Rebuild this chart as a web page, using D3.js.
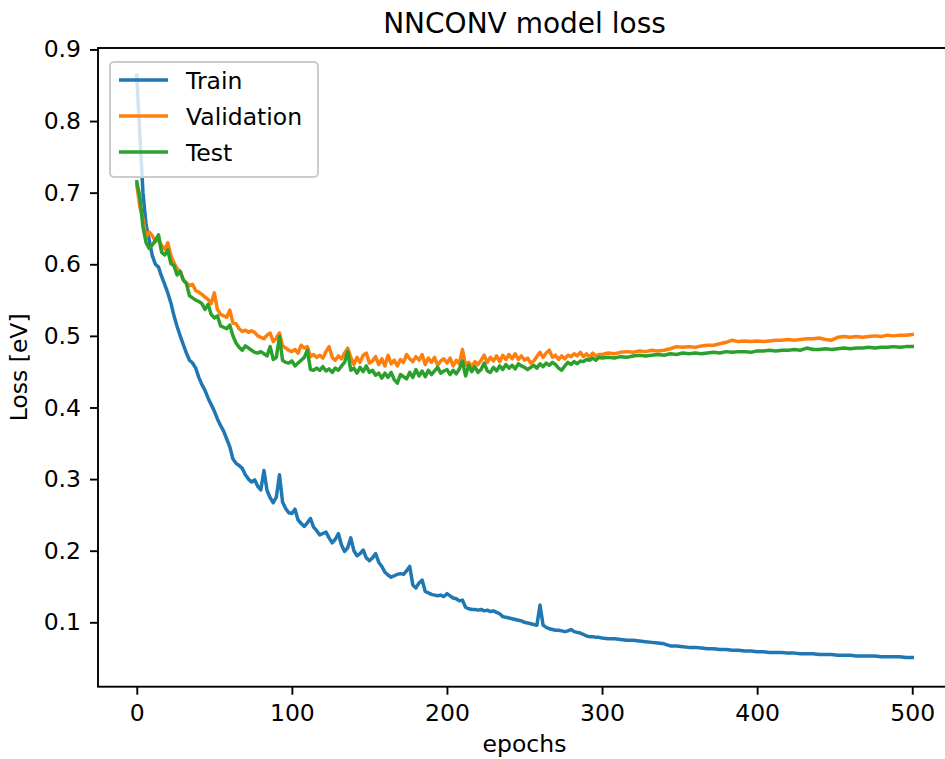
<!DOCTYPE html>
<html>
<head>
<meta charset="utf-8">
<script src="https://cdn.jsdelivr.net/npm/d3@7"></script>
<style>
  body { margin: 0; background: #fff; }
  text { font-family: "DejaVu Sans", sans-serif; fill: #000; }
</style>
</head>
<body>
<script>
// epochs: every 2 epochs up to 300, every 4 after that
var epochs = d3.range(0, 301, 2).concat(d3.range(304, 501, 4));

var trainLoss = [
  0.864, 0.780, 0.700, 0.655, 0.634, 0.612, 0.600, 0.596, 0.583, 0.572,
  0.560, 0.546, 0.528, 0.513, 0.500, 0.488, 0.476, 0.466, 0.462, 0.455,
  0.442, 0.432, 0.424, 0.413, 0.404, 0.395, 0.384, 0.375, 0.367, 0.356,
  0.345, 0.328, 0.322, 0.319, 0.315, 0.306, 0.300, 0.296, 0.299, 0.290,
  0.285, 0.312, 0.284, 0.274, 0.267, 0.275, 0.306, 0.268, 0.259, 0.253,
  0.252, 0.258, 0.243, 0.238, 0.234, 0.239, 0.245, 0.233, 0.228, 0.222,
  0.224, 0.226, 0.218, 0.211, 0.216, 0.224, 0.208, 0.199, 0.204, 0.218,
  0.200, 0.193, 0.196, 0.201, 0.190, 0.186, 0.190, 0.196, 0.184, 0.178,
  0.170, 0.166, 0.163, 0.165, 0.167, 0.168, 0.167, 0.172, 0.178, 0.152,
  0.148, 0.155, 0.159, 0.143, 0.141, 0.139, 0.138, 0.137, 0.138, 0.136,
  0.140, 0.137, 0.134, 0.133, 0.130, 0.131, 0.121, 0.119, 0.118, 0.118,
  0.117, 0.118, 0.116, 0.117, 0.115, 0.116, 0.114, 0.112, 0.108, 0.107,
  0.106, 0.105, 0.104, 0.103, 0.102, 0.100, 0.099, 0.098, 0.097, 0.096,
  0.124, 0.096, 0.093, 0.091, 0.090, 0.089, 0.089, 0.088, 0.087, 0.088,
  0.090, 0.087, 0.086, 0.085, 0.083, 0.081, 0.080, 0.080, 0.079, 0.079,
  0.078,
  0.077, 0.077, 0.076, 0.075, 0.075, 0.074, 0.073, 0.072, 0.071, 0.070,
  0.067, 0.067, 0.066, 0.065, 0.065, 0.064, 0.063, 0.063, 0.062, 0.062,
  0.061, 0.061, 0.060, 0.060, 0.059, 0.059, 0.058, 0.058, 0.058, 0.057,
  0.057, 0.056, 0.056, 0.056, 0.055, 0.055, 0.055, 0.054, 0.054, 0.054,
  0.053, 0.053, 0.053, 0.053, 0.052, 0.052, 0.052, 0.052, 0.051, 0.051
];

var validationLoss = [
  0.711, 0.680, 0.664, 0.638, 0.645, 0.640, 0.632, 0.634, 0.626, 0.621,
  0.630, 0.612, 0.602, 0.594, 0.590, 0.578, 0.574, 0.570, 0.572, 0.563,
  0.561, 0.558, 0.554, 0.551, 0.545, 0.560, 0.537, 0.530, 0.528, 0.526,
  0.536, 0.518, 0.517, 0.510, 0.506, 0.508, 0.505, 0.507, 0.505, 0.500,
  0.498, 0.496, 0.501, 0.504, 0.492, 0.497, 0.504, 0.486, 0.483, 0.480,
  0.478, 0.481, 0.476, 0.487, 0.483, 0.485, 0.471, 0.474, 0.470, 0.473,
  0.469, 0.478, 0.485, 0.470, 0.466, 0.472, 0.468, 0.476, 0.483, 0.470,
  0.460, 0.470, 0.463, 0.473, 0.476, 0.462, 0.465, 0.471, 0.460, 0.468,
  0.458, 0.473, 0.461, 0.466, 0.458, 0.467, 0.463, 0.474, 0.468, 0.464,
  0.471, 0.466, 0.474, 0.460, 0.469, 0.463, 0.470, 0.459, 0.465, 0.468,
  0.462, 0.469, 0.458, 0.466, 0.461, 0.481, 0.459, 0.463, 0.457, 0.464,
  0.460, 0.466, 0.473, 0.463, 0.470, 0.465, 0.472, 0.464, 0.473, 0.467,
  0.474, 0.468, 0.475, 0.467, 0.472, 0.466, 0.469, 0.462, 0.465, 0.471,
  0.477, 0.470, 0.476, 0.480, 0.470, 0.473, 0.467, 0.472, 0.468, 0.473,
  0.471, 0.475, 0.472, 0.477, 0.471, 0.475, 0.470, 0.476, 0.472, 0.474,
  0.474,
  0.476, 0.475, 0.477, 0.478, 0.477, 0.479, 0.478, 0.480, 0.479, 0.480,
  0.482, 0.485, 0.484, 0.485, 0.484, 0.486, 0.487, 0.487, 0.489, 0.491,
  0.494, 0.492, 0.493, 0.492, 0.493, 0.492, 0.493, 0.494, 0.494, 0.495,
  0.494, 0.495, 0.496, 0.496, 0.497, 0.495, 0.494, 0.498, 0.499, 0.498,
  0.499, 0.498, 0.499, 0.500, 0.499, 0.501, 0.500, 0.501, 0.501, 0.502
];

var testLoss = [
  0.715, 0.694, 0.652, 0.630, 0.622, 0.627, 0.633, 0.641, 0.617, 0.613,
  0.620, 0.601, 0.598, 0.585, 0.590, 0.578, 0.573, 0.556, 0.553, 0.550,
  0.548, 0.545, 0.537, 0.544, 0.530, 0.525, 0.528, 0.514, 0.512, 0.510,
  0.515, 0.500, 0.490, 0.484, 0.480, 0.486, 0.483, 0.480, 0.477, 0.476,
  0.478, 0.475, 0.472, 0.485, 0.467, 0.470, 0.499, 0.466, 0.463, 0.462,
  0.465, 0.458, 0.462, 0.466, 0.470, 0.480, 0.453, 0.452, 0.455, 0.452,
  0.457, 0.451, 0.454, 0.449, 0.455, 0.452, 0.458, 0.463, 0.478, 0.452,
  0.455, 0.448, 0.456, 0.450, 0.458, 0.449, 0.452, 0.445, 0.448, 0.441,
  0.448, 0.442, 0.449, 0.439, 0.434, 0.446, 0.443, 0.440, 0.449, 0.442,
  0.453, 0.444, 0.451, 0.443, 0.452, 0.446, 0.451, 0.456, 0.448, 0.451,
  0.453, 0.446, 0.452, 0.447, 0.454, 0.465, 0.444, 0.459, 0.450, 0.457,
  0.449, 0.453, 0.462, 0.451, 0.449, 0.456, 0.451, 0.458, 0.453, 0.460,
  0.455, 0.459, 0.454, 0.461, 0.458, 0.456, 0.453, 0.456, 0.459, 0.455,
  0.461, 0.457, 0.462, 0.459, 0.463, 0.460, 0.455, 0.452, 0.458, 0.463,
  0.460, 0.464, 0.461, 0.465, 0.464, 0.467, 0.466, 0.469, 0.466, 0.470,
  0.469,
  0.470, 0.469, 0.471, 0.470, 0.472, 0.473, 0.472, 0.473, 0.474, 0.473,
  0.475, 0.474, 0.476, 0.475, 0.476, 0.475, 0.476, 0.477, 0.476, 0.478,
  0.477, 0.478, 0.478, 0.477, 0.479, 0.479, 0.480, 0.479, 0.480, 0.480,
  0.481, 0.480, 0.483, 0.481, 0.481, 0.482, 0.481, 0.482, 0.483, 0.482,
  0.483, 0.483, 0.484, 0.483, 0.484, 0.484, 0.485, 0.484, 0.485, 0.485
];

var seriesNames = ["Train", "Validation", "Test"];
var seriesColors = ["#1f77b4", "#ff7f0e", "#2ca02c"];
var xTicks = [0, 100, 200, 300, 400, 500];
var yTicks = [0.1, 0.2, 0.3, 0.4, 0.5, 0.6, 0.7, 0.8, 0.9];

var W = 945, H = 759;
var plotLeft = 98, plotRight = 951, plotTop = 48, plotBottom = 686.7;

var svg = d3.select("body").append("svg").attr("width", W).attr("height", H);

var x = d3.scaleLinear().domain([-25, 525]).range([plotLeft, plotRight]);
var y = d3.scaleLinear().domain([0.0101, 0.902]).range([plotBottom, plotTop]);

svg.append("clipPath").attr("id", "plotclip")
  .append("rect")
    .attr("x", plotLeft).attr("y", plotTop)
    .attr("width", plotRight - plotLeft).attr("height", plotBottom - plotTop);

var line = d3.line()
  .x(function(d){ return x(d[0]); })
  .y(function(d){ return y(d[1]); });

var allSeries = [trainLoss, validationLoss, testLoss];

svg.append("g").attr("clip-path", "url(#plotclip)")
  .selectAll("path")
  .data(allSeries)
  .enter().append("path")
    .attr("d", function(s){ return line(s.map(function(v, i){ return [epochs[i], v]; })); })
    .attr("fill", "none")
    .attr("stroke", function(d, i){ return seriesColors[i]; })
    .attr("stroke-width", 3.5)
    .attr("stroke-linejoin", "round")
    .attr("stroke-linecap", "square");

// axes
var xAxis = svg.append("g")
  .attr("transform", "translate(0," + plotBottom + ")")
  .call(d3.axisBottom(x).tickValues(xTicks).tickSize(8).tickPadding(10).tickSizeOuter(0));

var yAxis = svg.append("g")
  .attr("transform", "translate(" + plotLeft + ",0)")
  .call(d3.axisLeft(y).tickValues(yTicks).tickSize(8).tickPadding(9).tickSizeOuter(0).tickFormat(d3.format(".1f")));

[xAxis, yAxis].forEach(function(g){
  g.selectAll("text").attr("font-size", 23.5).attr("font-family", "DejaVu Sans").attr("fill", "#000");
  g.selectAll("line").attr("stroke", "#000").attr("stroke-width", 1.9);
  g.select(".domain").remove();
});

// frame
svg.append("rect")
  .attr("x", plotLeft).attr("y", plotTop)
  .attr("width", plotRight - plotLeft).attr("height", plotBottom - plotTop)
  .attr("fill", "none")
  .attr("stroke", "#000")
  .attr("stroke-width", 1.9);

// title and labels
svg.append("text")
  .text("NNCONV model loss")
  .attr("x", (plotLeft + plotRight) / 2)
  .attr("y", 33)
  .attr("font-size", 28)
  .attr("text-anchor", "middle");

svg.append("text")
  .text("epochs")
  .attr("x", (plotLeft + plotRight) / 2)
  .attr("y", 752)
  .attr("font-size", 23.5)
  .attr("text-anchor", "middle");

svg.append("text")
  .text("Loss [eV]")
  .attr("transform", "translate(27," + (plotTop + plotBottom) / 2 + ") rotate(-90)")
  .attr("font-size", 23.5)
  .attr("text-anchor", "middle");

// legend
var legend = svg.append("g");
legend.append("rect")
  .attr("x", 110).attr("y", 62)
  .attr("width", 208).attr("height", 115)
  .attr("rx", 4).attr("ry", 4)
  .attr("fill", "#fff").attr("fill-opacity", 0.8)
  .attr("stroke", "#cccccc").attr("stroke-width", 2);

var items = legend.selectAll("g.item")
  .data(seriesNames)
  .enter().append("g")
    .attr("class", "item")
    .attr("transform", function(d, i){ return "translate(0," + (80 + i * 36) + ")"; });

items.append("line")
  .attr("x1", 119).attr("x2", 168)
  .attr("y1", 0).attr("y2", 0)
  .attr("stroke", function(d, i){ return seriesColors[i]; })
  .attr("stroke-width", 3.5);

items.append("text")
  .text(function(d){ return d; })
  .attr("x", 186)
  .attr("y", 8.5)
  .attr("font-size", 23.5);
</script>
</body>
</html>
